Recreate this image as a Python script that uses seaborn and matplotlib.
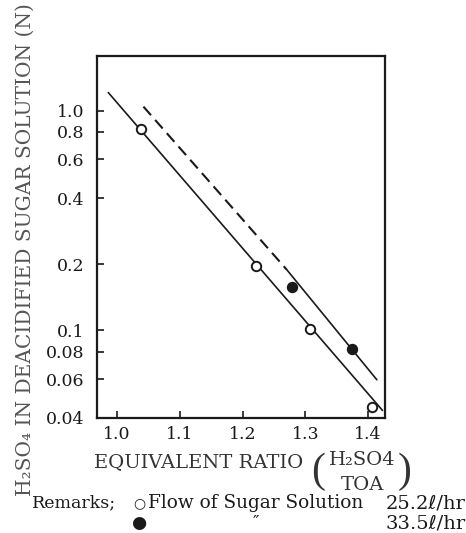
import matplotlib
matplotlib.use("Agg")
import matplotlib.pyplot as plt
import seaborn as sns

# Measured points, flow 25.2 l/hr (open circles)
ratio_low = [1.038, 1.221, 1.308, 1.407]
acid_low = [0.82, 0.197, 0.1015, 0.045]

# Measured points, flow 33.5 l/hr (filled circles)
ratio_high = [1.279, 1.374]
acid_high = [0.1575, 0.0823]

# Fitted lines (end points)
fit_low_x = [0.986, 1.423]
fit_low_y = [1.207, 0.0433]
fit_high_dash_x = [1.042, 1.2704]
fit_high_dash_y = [1.042, 0.189]
fit_high_solid_x = [1.2704, 1.414]
fit_high_solid_y = [0.189, 0.0597]

x_ticks = [1.0, 1.1, 1.2, 1.3, 1.4]
x_tick_labels = ["1.0", "1.1", "1.2", "1.3", "1.4"]
y_ticks = [0.04, 0.06, 0.08, 0.1, 0.2, 0.4, 0.6, 0.8, 1.0]
y_tick_labels = ["0.04", "0.06", "0.08", "0.1", "0.2", "0.4", "0.6", "0.8", "1.0"]

sns.set_style("ticks")
plt.rcParams["font.family"] = ["DejaVu Serif", "DejaVu Sans"]

ink = "#1a1a1a"
W, H = 466, 533
fig = plt.figure(figsize=(W / 100, H / 100), dpi=100)
ax = fig.add_axes([97 / W, 1 - 418 / H, (385 - 97) / W, (418 - 56) / H])

ax.set_yscale("log")

sns.lineplot(x=fit_low_x, y=fit_low_y, ax=ax, color=ink, lw=1.2, sort=False)
sns.lineplot(x=fit_high_dash_x, y=fit_high_dash_y, ax=ax, color=ink, lw=1.5,
             sort=False, linestyle=(0, (5.5, 3)))
sns.lineplot(x=fit_high_solid_x, y=fit_high_solid_y, ax=ax, color=ink, lw=1.2, sort=False)

sns.scatterplot(x=ratio_low, y=acid_low, ax=ax, marker="o", s=46,
                facecolor="white", edgecolor=ink, linewidth=1.4, zorder=5)
sns.scatterplot(x=ratio_high, y=acid_high, ax=ax, marker="o", s=46,
                facecolor=ink, edgecolor=ink, linewidth=1.4, zorder=5)

ax.set_xlim(0.968, 1.427)
ax.set_ylim(0.04, 1.77)
ax.set_xticks(x_ticks)
ax.set_xticklabels(x_tick_labels)
ax.set_yticks(y_ticks)
ax.set_yticklabels(y_tick_labels)
ax.minorticks_off()
ax.tick_params(direction="in", length=5, width=1.2, labelsize=12.5, colors=ink)
ax.tick_params(axis="x", pad=6)
ax.tick_params(axis="y", pad=9)
for sp in ax.spines.values():
    sp.set_linewidth(1.6)
    sp.set_color(ink)
ax.set_xlabel("")
ax.set_ylabel("")


def put(x, y, s, **kw):
    """Place text using pixel coordinates measured from the top-left corner."""
    kw.setdefault("color", ink)
    kw.setdefault("va", "center")
    return fig.text(x / W, 1 - y / H, s, **kw)


# Axis titles
put(25, 250, "H\u2082SO\u2084 IN DEACIDIFIED SUGAR SOLUTION (N)", rotation=90,
    ha="center", fontsize=14.5, color="#555555")
put(199, 462, "EQUIVALENT RATIO", ha="center", fontsize=14, color="#333333")
put(362, 460, "H\u2082SO4", ha="center", fontsize=14, color="#333333")
put(362, 485, "TOA", ha="center", fontsize=14, color="#333333")
put(318, 472, "(", ha="center", fontsize=30, color="#333333",
    family=["Liberation Serif", "DejaVu Serif"])
put(405, 472, ")", ha="center", fontsize=30, color="#333333",
    family=["Liberation Serif", "DejaVu Serif"])

# Remarks
put(32, 503, "Remarks;", ha="left", fontsize=12.5)
put(139, 503, "\u25cb", ha="center", fontsize=10)
put(148, 503, "Flow of Sugar Solution", ha="left", fontsize=13.3)
put(466, 503, "25.2\u2113/hr", ha="right", fontsize=14)
put(139, 523, "\u25cf", ha="center", fontsize=12.5)
put(256, 523, "\u2033", ha="center", fontsize=12.5)
put(466, 523, "33.5\u2113/hr", ha="right", fontsize=14)

fig.savefig("out.png", dpi=100)
